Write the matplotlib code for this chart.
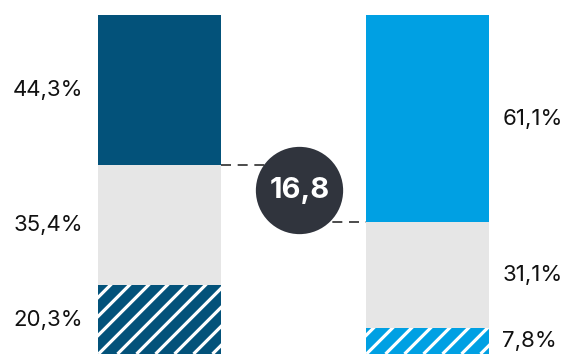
import matplotlib
matplotlib.use("Agg")
from matplotlib import pyplot as plt

# shares per group, bottom to top: hatched, grey, solid
groups = ["A", "B"]
hatched = [20.3, 7.8]
middle = [35.4, 31.1]
solid = [44.3, 61.1]
gap_label = "16,8"

solid_colors = ["#03527a", "#00a0e3"]
grey = "#e6e6e6"
dark = "#30343d"

plt.rcParams["font.family"] = ["Inter", "DejaVu Sans"]

W, H = 566, 354
fig = plt.figure(figsize=(W / 100, H / 100), dpi=100)
ax = fig.add_axes([0, 0, 1, 339 / H])
xmin, xmax = -0.597, 1.515
ax.set_xlim(xmin, xmax)
ax.set_ylim(0, 100)
ax.axis("off")

# pixels per data unit, used for the diagonal stripes
sx = W / (xmax - xmin)
sy = 339 / 100

width = 0.459
x = [0, 1]

def fmt(v):
    return ("%.1f%%" % v).replace(".", ",")

def stripes(rect, spacing=19, lw=2.3):
    x0 = rect.get_x()
    L = 400
    for k in range(-25, 25):
        xs = x0 + k * spacing / sx
        line, = ax.plot([xs, xs + L / sx], [0, L / sy], color="white",
                        lw=lw, solid_capstyle="butt", zorder=2)
        line.set_clip_path(rect)

for i in range(2):
    b0 = hatched[i]
    b1 = b0 + middle[i]
    bars = ax.bar(x[i], hatched[i], width, color=solid_colors[i], linewidth=0)
    stripes(bars[0])
    ax.bar(x[i], middle[i], width, bottom=b0, color=grey, linewidth=0)
    ax.bar(x[i], solid[i], width, bottom=b1, color=solid_colors[i], linewidth=0)

    vals = [hatched[i], middle[i], solid[i]]
    bottoms = [0, b0, b1]
    for v, b in zip(vals, bottoms):
        if i == 0:
            ax.annotate(fmt(v), (x[i] - width / 2, b + v / 2), xytext=(-15, 0),
                        textcoords="offset pixels", ha="right", va="center",
                        fontsize=16, color="#111111")
        else:
            ax.annotate(fmt(v), (x[i] + width / 2, b + v / 2), xytext=(13, 0),
                        textcoords="offset pixels", ha="left", va="center",
                        fontsize=16, color="#111111")

# connectors from the top of each grey block to the difference badge
left_top = hatched[0] + middle[0]
right_top = hatched[1] + middle[1]
cx = 0.52
cy = (left_top + right_top) / 2 + 1
ax.plot([x[0] + width / 2, cx], [left_top, left_top], color="#2e2e2e",
        lw=1.2, dashes=(6, 4), zorder=3)
ax.plot([cx, x[1] - width / 2], [right_top, right_top], color="#2e2e2e",
        lw=1.2, dashes=(6, 4), zorder=3)
ax.scatter([cx], [cy], s=3950, color=dark, zorder=4, linewidths=0)
ax.text(cx, cy, gap_label, ha="center", va="center", color="white",
        fontsize=21, fontweight="bold", zorder=5)

fig.savefig("out.png", dpi=100)
